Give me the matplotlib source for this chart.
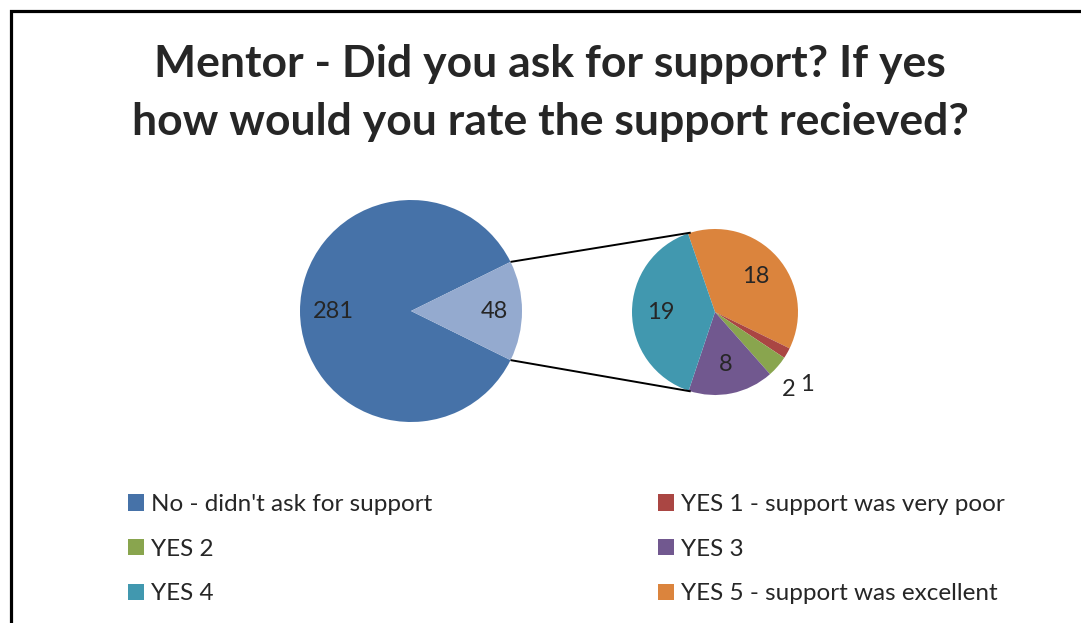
import numpy as np
import matplotlib.pyplot as plt
from matplotlib.patches import Patch
from matplotlib.lines import Line2D

plt.rcParams['font.family'] = ['Lato', 'DejaVu Sans']

title = 'Mentor - Did you ask for support? If yes\nhow would you rate the support recieved?'

# main pie
main_labels = ["No - didn't ask for support", 'YES']
main_values = [281, 48]
main_colors = ['#4672A8', '#94AACF']

# secondary pie (breakdown of the 48 YES answers), clockwise from the top
sub_labels = ['YES 5 - support was excellent', 'YES 1 - support was very poor',
              'YES 2', 'YES 3', 'YES 4']
sub_values = [18, 1, 2, 8, 19]
sub_colors = ['#DB843D', '#AA4643', '#89A54E', '#71588F', '#4198AF']

W, H = 1081, 623
fig = plt.figure(figsize=(W / 100, H / 100), dpi=100)
ax = fig.add_axes([0, 0, 1, 1])

txt_color = '#262626'

# main pie, YES wedge centred on the right side
c1, r1 = (411, H - 311), 111
half = main_values[1] / sum(main_values) * 180
ax.pie(main_values, colors=main_colors, center=c1, radius=r1,
       startangle=half, counterclock=True, labels=None,
       wedgeprops=dict(linewidth=0))
for v, ang, d in [(main_values[0], 180, 0.70), (main_values[1], 0, 0.75)]:
    a = np.deg2rad(ang)
    ax.text(c1[0] + d * r1 * np.cos(a), c1[1] + d * r1 * np.sin(a), str(v),
            ha='center', va='center', fontsize=17, color=txt_color)

# secondary pie
c2, r2 = (715, H - 312), 83
start2 = 109
wedges, _ = ax.pie(sub_values, colors=sub_colors, center=c2, radius=r2,
                   startangle=start2, counterclock=False,
                   wedgeprops=dict(linewidth=0))
for w, v in zip(wedges, sub_values):
    mid = np.deg2rad((w.theta1 + w.theta2) / 2)
    if v >= 5:
        d = 0.65
        x, y = c2[0] + d * r2 * np.cos(mid), c2[1] + d * r2 * np.sin(mid)
    else:
        d = 1.2
        x, y = c2[0] + d * r2 * np.cos(mid), c2[1] + d * r2 * np.sin(mid)
        if v == 1:
            x += 5
            y -= 23
        else:
            x -= 1
            y -= 12
    ax.text(x, y, str(v), ha='center', va='center', fontsize=17, color=txt_color)

# connector lines
for sgn in (1, -1):
    a1 = np.deg2rad(sgn * half)
    a2 = np.deg2rad(sgn * 107)
    ax.plot([c1[0] + r1 * np.cos(a1), c2[0] + r2 * np.cos(a2)],
            [c1[1] + r1 * np.sin(a1), c2[1] + r2 * np.sin(a2)],
            color='black', lw=1.4, solid_capstyle='butt')

# pie() resets the limits, so fix pixel-like data coords afterwards
ax.set_xlim(0, W)
ax.set_ylim(0, H)
ax.set_aspect('auto')
ax.axis('off')

ax.text(550, H - 93, title, ha='center', va='center', fontsize=32,
        fontweight='bold', color=txt_color, linespacing=1.55)

# legend, row-wise: No / YES1, YES2 / YES3, YES4 / YES5
order = [("No - didn't ask for support", main_colors[0]),
         ('YES 2', sub_colors[2]),
         ('YES 4', sub_colors[4]),
         (sub_labels[1], sub_colors[1]),
         ('YES 3', sub_colors[3]),
         (sub_labels[0], sub_colors[0])]
handles = [Patch(facecolor=c, edgecolor='none', label=l) for l, c in order]
leg = ax.legend(handles=handles, ncol=2, loc='upper left',
                bbox_to_anchor=(128 / W, 1 - 494 / H), frameon=False,
                fontsize=17.5, handlelength=0.65, handleheight=0.65,
                handletextpad=0.3, labelspacing=0.97, columnspacing=9.3,
                borderaxespad=0, borderpad=0)
for t in leg.get_texts():
    t.set_color(txt_color)

# chart frame (left and top edges visible)
fig.add_artist(Line2D([11 / W, 11 / W, 1], [0, 1 - 11 / H, 1 - 11 / H],
                      transform=fig.transFigure, color='black', lw=2.3,
                      solid_joinstyle='miter'))

fig.savefig('out.png', dpi=100)
